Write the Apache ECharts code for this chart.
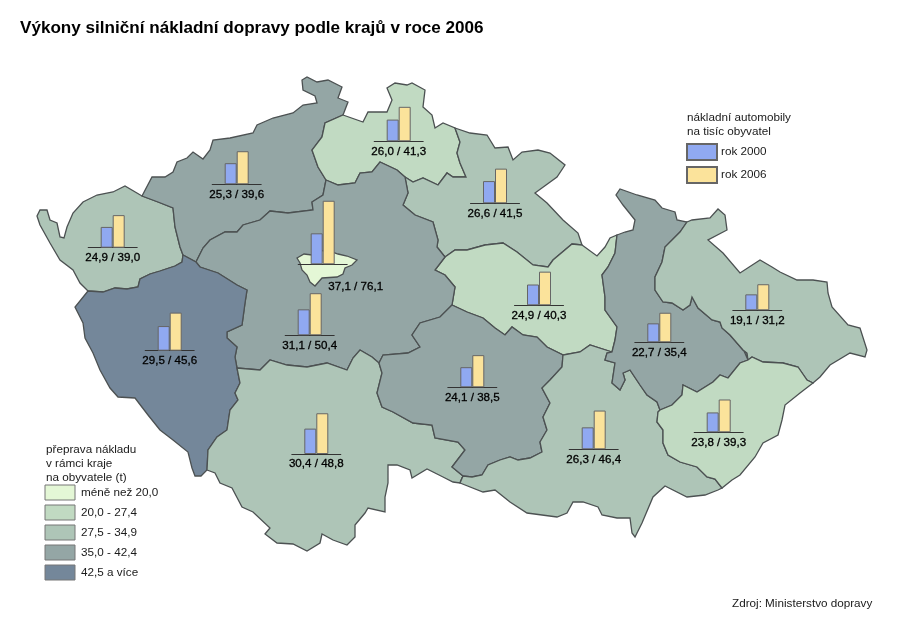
<!DOCTYPE html>
<html>
<head>
<meta charset="utf-8">
<title>Výkony silniční nákladní dopravy</title>
<script src="https://cdn.jsdelivr.net/npm/echarts@6/dist/echarts.min.js"></script>
<style>
html,body{margin:0;padding:0;background:#fff;}
#main{width:900px;height:636px;}
</style>
</head>
<body>
<div id="main"></div>
<script>
// kraje
var regions=['Karlovarský','Ústecký','Liberecký','Královéhradecký','Pardubický','Středočeský','Praha','Plzeňský','Jihočeský','Vysočina','Jihomoravský','Olomoucký','Moravskoslezský','Zlínský'];
// nákladní automobily na tisíc obyvatel
var trucks2000=[24.9,25.3,26.0,26.6,24.9,31.1,37.1,29.5,30.4,24.1,26.3,22.7,19.1,23.8];
var trucks2006=[39.0,39.6,41.3,41.5,40.3,50.4,76.1,45.6,48.8,38.5,46.4,35.4,31.2,39.3];
// preprava v ramci kraje - z obrazku jde precist jen trida, hodnoty jsou odhad
var freight=[31,39,24,31,24,39,18,45,31,39,31,39,31,24];

var classLabels=['méně než 20,0','20,0 - 27,4','27,5 - 34,9','35,0 - 42,4','42,5 a více'];
var classFrom=[0,20,27.5,35,42.5];
var classTo=[20,27.5,35,42.5,100];
var classColors=['#e4f7d6','#c1dac2','#aec5b7','#94a6a5','#74879a'];

// kde stoji sloupce: stred a zakladna v px
var barAnchors=[[112.7,247.7],[236.7,184.3],[398.7,141.3],[495,203.3],[539,305.3],[309.7,335.3],[322.7,264.3],[169.7,350.7],[316.3,454],[472.3,387.3],[593.7,449.3],[659.3,342.3],[757.3,310.3],[718.7,432.3]];

// hranice kraju (px), sdilene mezi sousedy
var edges={
    kvOut:[[88,291],[80,283],[73,270],[60,260],[50,243],[40,225],[37,216],[40,210],[47,210],[50,220],[57,223],[60,237],[64,238],[67,227],[73,213],[83,202],[97,195],[113,192],[125,186],[142,196]],
    kvUl:[[142,196],[158,202],[173,208],[175,227],[180,247],[183,255]],
    kvPl:[[183,255],[182,262],[175,266],[160,271],[150,274],[140,279],[138,287],[127,289],[115,288],[103,292],[88,291]],
    ulOut:[[142,196],[152,177],[165,177],[173,172],[177,162],[187,158],[193,152],[203,159],[210,150],[213,140],[230,138],[253,133],[257,125],[273,118],[293,113],[303,105],[317,103],[315,96],[303,90],[302,80],[307,77],[317,82],[328,80],[342,87],[338,98],[348,102],[343,115]],
    ulLb:[[343,115],[325,123],[322,137],[312,150],[318,167],[326,180]],
    ulSc:[[326,180],[323,195],[312,202],[313,210],[288,213],[270,211],[260,220],[243,225],[237,232],[225,232],[210,240],[203,248],[196,262]],
    ulPl:[[196,262],[183,255]],
    lbOut:[[343,115],[363,122],[368,112],[387,112],[392,100],[387,88],[395,83],[407,85],[412,83],[425,90],[423,107],[432,115],[435,128],[443,123],[455,128]],
    lbKh:[[455,128],[460,142],[457,153],[460,163],[466,177],[453,177],[447,173],[438,185],[423,178],[413,182],[405,177]],
    lbSc:[[405,177],[397,170],[380,162],[372,172],[360,173],[355,183],[338,185],[326,180]],
    khOut:[[455,128],[470,133],[487,135],[495,148],[508,147],[513,160],[522,152],[538,150],[550,153],[565,165],[557,177],[535,193],[547,203],[563,220],[578,233],[582,245]],
    khPa:[[582,245],[572,244],[553,260],[548,267],[533,265],[517,252],[503,243],[485,245],[467,250],[455,250],[445,257]],
    khSc:[[405,177],[408,193],[403,205],[415,215],[433,222],[438,240],[437,247],[445,257]],
    paOut:[[582,245],[597,256],[605,247],[610,238],[617,235]],
    paOl:[[617,235],[615,253],[608,267],[602,275],[605,297],[605,310],[617,327],[615,340],[612,352]],
    paJm:[[612,352],[590,345],[580,352],[563,355]],
    paVy:[[563,355],[547,347],[537,337],[523,335],[512,327],[505,335],[495,328],[483,318],[467,312],[452,305]],
    paSc:[[452,305],[455,287],[445,275],[435,270],[445,257]],
    scVy:[[452,305],[440,317],[420,323],[412,335],[420,347],[408,353],[383,355],[379,363]],
    scJc:[[379,363],[372,357],[360,350],[353,358],[347,370],[327,363],[307,367],[287,365],[270,360],[260,370],[237,368]],
    scPl:[[237,368],[235,357],[237,347],[227,338],[227,332],[242,325],[245,303],[247,290],[237,285],[218,273],[200,267],[196,262]],
    plOut:[[88,291],[75,307],[83,323],[85,338],[93,353],[100,370],[110,388],[118,397],[135,398],[148,415],[160,430],[173,440],[188,452],[192,468],[195,476],[201,476],[207,470]],
    plJc:[[207,470],[208,450],[217,437],[227,430],[230,410],[238,400],[235,393],[240,383],[237,368]],
    jcOut:[[207,470],[215,473],[220,483],[232,488],[242,507],[253,512],[270,528],[265,534],[277,543],[293,544],[307,551],[320,543],[322,534],[333,540],[347,545],[355,537],[355,525],[365,513],[368,508],[385,512],[385,497],[388,483],[388,465],[397,465],[410,470],[412,478],[427,469],[443,477],[453,482],[460,483]],
    jcVy:[[379,363],[382,373],[377,393],[382,407],[393,412],[413,423],[432,425],[435,438],[458,442],[465,450],[452,467],[463,476],[460,483]],
    vyJm:[[463,476],[472,477],[482,475],[488,465],[500,460],[510,457],[518,460],[530,458],[542,452],[540,442],[547,430],[543,417],[550,403],[542,388],[550,380],[562,367],[563,355]],
    jmOut:[[460,483],[483,492],[495,490],[510,502],[527,513],[557,517],[567,513],[573,502],[583,502],[598,507],[602,515],[617,518],[630,518],[632,533],[635,537],[642,523],[653,497],[665,486],[687,497],[705,495],[718,490],[722,488]],
    jmZl:[[722,488],[715,479],[707,477],[697,467],[680,462],[668,455],[663,443],[663,430],[657,422],[658,412],[660,410]],
    olJm:[[660,410],[657,402],[647,395],[640,385],[630,370],[623,373],[625,380],[620,390],[612,383],[615,363],[605,360],[607,353],[612,352]],
    olZl:[[660,410],[672,405],[682,395],[683,385],[697,392],[713,382],[720,375],[728,378],[740,363],[748,360]],
    olMs:[[748,360],[747,353],[743,350],[730,335],[722,328],[720,322],[712,320],[698,308],[692,297],[690,305],[683,310],[672,303],[663,302],[655,290],[655,277],[662,262],[665,247],[680,232],[687,222]],
    olOut:[[617,235],[625,232],[633,230],[635,220],[623,205],[616,195],[620,189],[637,195],[655,200],[662,208],[675,212],[677,220],[687,222]],
    msOut:[[687,222],[692,220],[710,218],[718,209],[725,215],[727,230],[708,240],[723,253],[740,273],[760,260],[772,267],[780,272],[797,280],[813,280],[827,282],[828,293],[832,307],[848,325],[860,328],[867,350],[865,357],[850,353],[830,365],[820,377],[813,383]],
    msZl:[[813,383],[807,380],[798,367],[783,363],[763,362],[752,357],[748,360]],
    zlOut:[[813,383],[800,393],[785,405],[782,420],[778,435],[763,443],[755,457],[740,475],[732,480],[722,488]]
};
var prahaOutline=[[297,258],[304,254],[312,255],[318,250],[332,252],[338,254],[347,256],[357,260],[352,265],[345,268],[343,274],[337,277],[322,278],[315,286],[310,282],[307,275],[302,270],[300,263]];

// poradi hran pro kazdy kraj, '-' = obracene
var regionEdges={
    'Karlovarský':['kvOut','kvUl','kvPl'],
    'Ústecký':['ulOut','ulLb','ulSc','ulPl','-kvUl'],
    'Liberecký':['lbOut','lbKh','lbSc','-ulLb'],
    'Královéhradecký':['khOut','khPa','-khSc','-lbKh'],
    'Pardubický':['paOut','paOl','paJm','paVy','paSc','-khPa'],
    'Středočeský':['-lbSc','khSc','-paSc','scVy','scJc','scPl','-ulSc'],
    'Plzeňský':['plOut','plJc','scPl','ulPl','kvPl'],
    'Jihočeský':['jcOut','-jcVy','scJc','-plJc'],
    'Vysočina':['-scVy','-paVy','-vyJm','-jcVy'],
    'Jihomoravský':['jmOut','jmZl','olJm','paJm','-vyJm'],
    'Olomoucký':['olOut','olMs','-olZl','olJm','-paOl'],
    'Moravskoslezský':['msOut','msZl','olMs'],
    'Zlínský':['zlOut','jmZl','olZl','-msZl']
};

function edgePoints(key){
    if(key.charAt(0)=='-'){
        return edges[key.substring(1)].slice().reverse();
    }
    return edges[key];
}

function buildSvg(){
    var s='<svg xmlns="http://www.w3.org/2000/svg" viewBox="0 0 900 636" width="900" height="636">';
    for(var name in regionEdges){
        var pts=[];
        regionEdges[name].forEach(function(k){
            pts=pts.concat(edgePoints(k));
        });
        s+='<polygon name="'+name+'" points="'+pts.join(' ')+'"/>';
    }
    s+='<polygon name="Praha" points="'+prahaOutline.join(' ')+'"/>';
    return s+'</svg>';
}

function fmt(v){
    return v.toFixed(1).replace('.',',');
}

echarts.registerMap('cesko',{svg:buildSvg()});

var myChart=echarts.init(document.getElementById('main'));

var grids=[],xAxes=[],yAxes=[];
var series=[{
    type:'map',
    map:'cesko',
    left:0,top:0,width:900,height:636,
    roam:false,
    silent:true,
    z:1,
    selectedMode:false,
    showLegendSymbol:false,
    label:{show:false},
    itemStyle:{borderColor:'#4c5152',borderWidth:1.3},
    data:regions.map(function(r,i){return {name:r,value:freight[i]};})
}];

regions.forEach(function(r,i){
    var isPraha=r=='Praha';
    grids.push({
        left:barAnchors[i][0]-24.5,
        top:barAnchors[i][1]-83.5,
        width:49,
        height:83.5
    });
    xAxes.push({
        type:'category',
        gridIndex:i,
        z:3,
        data:[fmt(trucks2000[i])+' / '+fmt(trucks2006[i])],
        axisLine:{lineStyle:{color:'#333',width:1}},
        axisTick:{show:false},
        axisLabel:{
            interval:0,
            color:'#000',
            fontFamily:'Liberation Sans',
            fontSize:11.6,
            textBorderColor:'#000',
            textBorderWidth:0.3,
            margin:isPraha?16:4,
            padding:isPraha?[0,0,0,66]:0
        }
    });
    yAxes.push({type:'value',gridIndex:i,min:0,max:100,show:false});
    series.push({
        type:'bar',name:'rok 2000',xAxisIndex:i,yAxisIndex:i,z:4,
        barWidth:12,barGap:0,silent:true,
        itemStyle:{color:'#90a9f1',borderColor:'#666',borderWidth:1},
        data:[trucks2000[i]]
    });
    series.push({
        type:'bar',name:'rok 2006',xAxisIndex:i,yAxisIndex:i,z:4,
        barWidth:12,barGap:0,silent:true,
        itemStyle:{color:'#fbe39b',borderColor:'#666',borderWidth:1},
        data:[trucks2006[i]]
    });
});

function plainText(x,y,text){
    return {type:'text',left:x,top:y,style:{text:text,fill:'#1a1a1a',font:'11.7px "Liberation Sans"'}};
}

// ramecky kolem polozek legendy kraju
var frames=classLabels.map(function(l,i){
    return {type:'rect',z:10,shape:{x:45,y:485+i*20,width:30,height:15},style:{fill:'none',stroke:'#777',lineWidth:1}};
});

var option={
    animation:false,
    backgroundColor:'#fff',
    title:{
        text:'Výkony silniční nákladní dopravy podle krajů v roce 2006',
        left:20,top:20,padding:0,
        textStyle:{fontFamily:'Liberation Sans',fontSize:17.1,fontWeight:'bold',color:'#000'}
    },
    legend:{
        data:['rok 2000','rok 2006'],
        orient:'vertical',
        icon:'rect',
        left:686,top:143,padding:0,
        itemWidth:30,itemHeight:16,itemGap:5,
        selectedMode:false,
        textStyle:{fontFamily:'Liberation Sans',fontSize:11.7,color:'#1a1a1a',padding:[0,0,0,-1]}
    },
    visualMap:{
        type:'piecewise',
        seriesIndex:0,
        orient:'vertical',
        inverse:true,
        left:45,top:485,padding:0,
        itemWidth:30,itemHeight:15,itemGap:5,textGap:6,
        align:'left',
        itemSymbol:'rect',
        selectedMode:false,
        hoverLink:false,
        textStyle:{fontFamily:'Liberation Sans',fontSize:11.7,color:'#1a1a1a'},
        pieces:classLabels.map(function(l,i){
            return {gte:classFrom[i],lt:classTo[i],label:l,color:classColors[i]};
        })
    },
    graphic:[
        plainText(687,112,'nákladní automobily'),
        plainText(687,126,'na tisíc obyvatel'),
        plainText(46,444,'přeprava nákladu'),
        plainText(46,458,'v rámci kraje'),
        plainText(46,472,'na obyvatele (t)'),
        plainText(732,598,'Zdroj: Ministerstvo dopravy')
    ].concat(frames),
    grid:grids,
    xAxis:xAxes,
    yAxis:yAxes,
    series:series
};
myChart.setOption(option);
</script>
</body>
</html>
